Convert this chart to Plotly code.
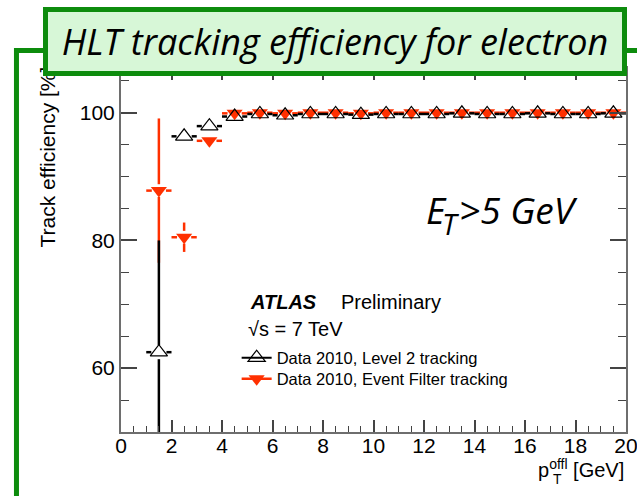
import plotly.graph_objects as go

# Offline electron pT bins (GeV): centres and half-width
pt_bins = [1.5, 2.5, 3.5, 4.5, 5.5, 6.5, 7.5, 8.5, 9.5, 10.5,
           11.5, 12.5, 13.5, 14.5, 15.5, 16.5, 17.5, 18.5, 19.5]
bin_half_width = 0.5

# Level 2 tracking efficiency [%] and its uncertainty
l2_eff = [62.5, 96.3, 97.9, 99.4, 99.8, 99.6, 99.8, 99.8, 99.7, 99.8,
          99.8, 99.8, 99.9, 99.8, 99.8, 99.9, 99.8, 99.8, 99.9]
l2_err = [17.5, 0.8, 0.6, 0.3, 0.2, 0.2, 0.1, 0.1, 0.1, 0.1,
          0.1, 0.1, 0.1, 0.1, 0.1, 0.1, 0.1, 0.1, 0.1]

# Event Filter tracking efficiency [%] and its uncertainty
ef_eff = [87.8, 80.5, 95.6, 99.9, 100.0, 99.9, 100.0, 100.0, 99.9, 100.0,
          100.0, 100.0, 100.0, 100.0, 100.0, 100.0, 100.0, 100.0, 100.0]
ef_err = [11.3, 2.3, 0.9, 0.2, 0.1, 0.1, 0.1, 0.1, 0.1, 0.1,
          0.1, 0.1, 0.1, 0.1, 0.1, 0.1, 0.1, 0.1, 0.1]

L2_NAME = "Data 2010, Level 2 tracking"
EF_NAME = "Data 2010, Event Filter tracking"

BLACK = "#000000"
RED = "#ff3000"
GREEN = "#0d8c0d"
PALE_GREEN = "#d7f7d7"
FONT = "Liberation Sans, Arial, sans-serif"
TITLE_FONT = "Open Sans, Lato, sans-serif"


def error_segments(xs, ys, errs, gap_x, gap_y):
    """ROOT-style error bars that stop at the marker edge."""
    sx, sy = [], []
    for x, y, e in zip(xs, ys, errs):
        # horizontal bin-width bars on both sides of the marker
        sx += [x - bin_half_width, x - gap_x, None, x + gap_x, x + bin_half_width, None]
        sy += [y, y, None, y, y, None]
        # vertical statistical bars outside the marker
        if e > gap_y:
            sx += [x, x, None, x, x, None]
            sy += [y + e, y + gap_y, None, y - gap_y, y - e, None]
    return sx, sy


fig = go.Figure()

ef_x, ef_y = error_segments(pt_bins, ef_eff, ef_err, 0.28, 1.0)
fig.add_trace(go.Scatter(x=ef_x, y=ef_y, mode="lines", showlegend=False,
                         line=dict(color=RED, width=2.5), hoverinfo="skip"))
fig.add_trace(go.Scatter(x=pt_bins, y=ef_eff, mode="markers", showlegend=False,
                         marker=dict(symbol="triangle-down", size=14, color=RED,
                                     line=dict(width=0))))

l2_x, l2_y = error_segments(pt_bins, l2_eff, l2_err, 0.30, 1.1)
fig.add_trace(go.Scatter(x=l2_x, y=l2_y, mode="lines", showlegend=False,
                         line=dict(color=BLACK, width=2.5), hoverinfo="skip"))
fig.add_trace(go.Scatter(x=pt_bins, y=l2_eff, mode="markers", showlegend=False,
                         marker=dict(symbol="triangle-up-open", size=15, color=BLACK,
                                     line=dict(width=1.2, color=BLACK))))

# legend entries, one legend per row for exact placement
fig.add_trace(go.Scatter(x=[None], y=[None], mode="lines+markers", name=L2_NAME,
                         legend="legend",
                         line=dict(color=BLACK, width=2),
                         marker=dict(symbol="triangle-up-open", size=15, color=BLACK,
                                     line=dict(width=1.2, color=BLACK))))
fig.add_trace(go.Scatter(x=[None], y=[None], mode="lines+markers", name=EF_NAME,
                         legend="legend2",
                         line=dict(color=RED, width=2.5),
                         marker=dict(symbol="triangle-down", size=14, color=RED)))

axis_common = dict(
    showgrid=False, zeroline=False, showline=True, linecolor="#6e6e6e", linewidth=2,
    ticks="inside", mirror="ticks", tickcolor="#444444", tickwidth=1.5,
    tickfont=dict(family=FONT, size=21, color=BLACK), ticklabeloverflow="allow",
)

fig.update_xaxes(range=[0, 20], dtick=2, tick0=0, ticklen=12, ticklabelstandoff=-6,
                 minor=dict(dtick=0.5, ticklen=6, ticks="inside",
                            tickcolor="#444444", tickwidth=1.2),
                 **axis_common)
fig.update_yaxes(range=[50, 107], dtick=20, tick0=0, ticklen=16,
                 minor=dict(dtick=5, ticklen=8, ticks="inside",
                            tickcolor="#444444", tickwidth=1.2),
                 **axis_common)

# green slide frame behind the plot
fig.add_shape(type="rect", xref="paper", yref="paper",
              x0=-0.207, x1=1.1, y0=-0.3, y1=1.048,
              line=dict(color=GREEN, width=5), fillcolor="rgba(0,0,0,0)", layer="below")

annotations = [
    # y-axis title
    dict(text="Track efficiency [%]", xref="paper", yref="paper",
         x=-0.1465, y=0.5, xanchor="center", yanchor="bottom", textangle=-90,
         showarrow=False, font=dict(family=FONT, size=21, color=BLACK)),
    # x-axis title
    dict(text="p<sup>offl</sup> [GeV]", xref="paper", yref="paper",
         x=1.0, y=-0.1, xanchor="right", yanchor="middle",
         showarrow=False, font=dict(family=FONT, size=20, color=BLACK)),
    dict(text="T", xref="paper", yref="paper",
         x=0.851, y=-0.13, xanchor="left", yanchor="middle",
         showarrow=False, font=dict(family=FONT, size=14, color=BLACK)),
    # cut annotation: E, subscript T, then the threshold
    dict(text="<i>E</i>", xref="paper", yref="paper",
         x=0.600, y=0.611, xanchor="left", yanchor="middle",
         showarrow=False, font=dict(family=TITLE_FONT, size=37, color=BLACK)),
    dict(text="<i>T</i>", xref="paper", yref="paper",
         x=0.632, y=0.574, xanchor="left", yanchor="middle",
         showarrow=False, font=dict(family=TITLE_FONT, size=29, color=BLACK)),
    dict(text="<i>&gt;5 GeV</i>", xref="paper", yref="paper",
         x=0.666, y=0.611, xanchor="left", yanchor="middle",
         showarrow=False, font=dict(family=TITLE_FONT, size=37, color=BLACK)),
    # ATLAS label
    dict(text="<b><i>ATLAS</i></b>", xref="paper", yref="paper",
         x=0.252, y=0.357, xanchor="left", yanchor="middle",
         showarrow=False, font=dict(family=FONT, size=20, color=BLACK)),
    dict(text="Preliminary", xref="paper", yref="paper",
         x=0.432, y=0.357, xanchor="left", yanchor="middle",
         showarrow=False, font=dict(family=FONT, size=20, color=BLACK)),
    dict(text="\u221As = 7 TeV", xref="paper", yref="paper",
         x=0.248, y=0.283, xanchor="left", yanchor="middle",
         showarrow=False, font=dict(family=FONT, size=20, color=BLACK)),
    # slide title box
    dict(text="<i>HLT tracking efficiency for electron</i>", xref="paper", yref="paper",
         x=0.4238, y=1.0728, xanchor="center", yanchor="middle",
         width=574, height=59, borderpad=0, borderwidth=5,
         bgcolor=PALE_GREEN, bordercolor=GREEN,
         showarrow=False, font=dict(family=TITLE_FONT, size=36, color=BLACK)),
]

legend_style = dict(xanchor="left", yanchor="middle", bgcolor="rgba(0,0,0,0)",
                    borderwidth=0, font=dict(family=FONT, size=16.5, color=BLACK))

fig.update_layout(
    width=637, height=496,
    margin=dict(l=121, r=11, t=68, b=64, autoexpand=False),
    paper_bgcolor="white", plot_bgcolor="white",
    annotations=annotations,
    legend=dict(x=0.229, y=0.2033, **legend_style),
    legend2=dict(x=0.229, y=0.1456, **legend_style),
    showlegend=True,
)

fig.write_html("out.html")
